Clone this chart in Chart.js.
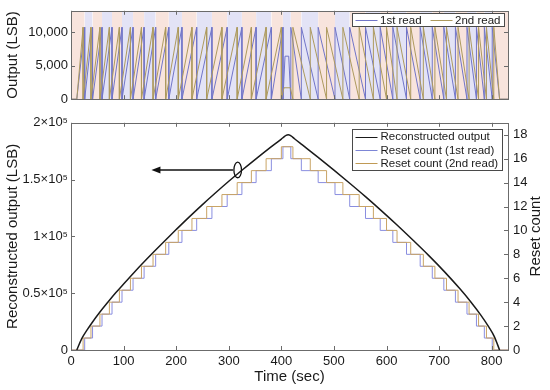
<!DOCTYPE html>
<html>
<head>
<meta charset="utf-8">
<script src="https://cdn.jsdelivr.net/npm/chart.js@4.4.1/dist/chart.umd.min.js"></script>
<style>
  body{margin:0;background:#fff;}
  #wrap{position:relative;width:550px;height:390px;}
  #top{position:absolute;left:0;top:0;}
  #bot{position:absolute;left:0;top:110px;}
</style>
</head>
<body>
<div id="wrap">
  <canvas id="top" width="550" height="110"></canvas>
  <canvas id="bot" width="550" height="280"></canvas>
</div>
<script>
// ---------- values ----------
// reconstructed output (LSB) vs time (sec)
const reconT = [11, 20, 30, 40, 55, 70, 85, 100, 120, 140, 160, 180, 200, 225, 250, 275, 300, 325, 350, 375,
                400, 405, 409, 413, 417, 421, 425, 440, 470, 500, 530, 560, 590, 620, 650, 680, 710, 740, 760, 780,
                795, 805, 815];
const reconV = [0, 9600, 17200, 24000, 33400, 42000, 50300, 58100, 68300, 78100, 87600, 96900, 106000, 117200, 128000, 138400, 148500, 158200, 167600, 176800,
                185700, 187600, 189000, 189500, 189000, 187600, 186000, 180500, 169500, 158300, 146800, 135000, 122700, 110000, 96800, 83300, 69000, 53600, 42500, 30300,
                19900, 11800, 0];

// times (sec) at which the reset count goes up (rising) / down (falling)
const riseRead1 = [26, 41, 59, 78, 97, 118, 139, 161, 186, 211, 239, 268, 297, 325, 352, 381, 403];
const riseRead2 = [23, 38, 55, 73, 92, 113, 134, 156, 180, 204, 230, 258, 287, 316, 343, 371, 400];
const fallRead1 = [418, 438, 470, 502, 530, 560, 588, 612, 638, 664, 687, 709, 731, 753, 771, 786, 801];
const fallRead2 = [422, 455, 486, 517, 548, 575, 600, 620, 646, 670, 692, 714, 736, 757, 775, 790, 804];

// raw output: tooth height and the partial ramp at the peak
const toothTop = 10700;
const humpRead1T = [407, 414], humpRead1V = 6400;
const humpRead2T = [405, 417], humpRead2V = 1700;

// axes
const xTicks = [0, 100, 200, 300, 400, 500, 600, 700, 800];
const topYTicks = [0, 5000, 10000];
const botYTicks = [0, 50000, 100000, 150000, 200000];
const countTicks = [0, 2, 4, 6, 8, 10, 12, 14, 16, 18];
const X_MAX = 831;
const TOP_Y_MAX = 13150;
const BOT_Y_MAX = 200000;
const COUNT_MAX = 19;

// annotation (arrow pointing to left axis, ring on the curve)
const arrowFromT = 308, arrowToT = 153, arrowV = 158500;
const ringT = 317, ringV = 158500;

// ---------- styling ----------
const FONT = "'Liberation Sans', Arial, sans-serif";
Chart.defaults.font.family = FONT;
Chart.defaults.color = '#1a1a1a';
const AXIS = '#6b6b6b';
const BLUE = '#7175c8';
const GOLD = '#ad9a5e';
const STEP_BLUE = '#8a8ee0';
const STEP_GOLD = '#c9a466';
const PINK = '#f8e4dd';
const LAV = '#e3e3f6';

// ---------- build series ----------
function sawtooth(rise, humpT, humpV, fall){
  const pts = [{x:0, y:0}, {x:reconT[0], y:0}];
  rise.forEach(t => { pts.push({x:t, y:toothTop}); pts.push({x:t, y:0}); });
  pts.push({x:humpT[0], y:humpV}, {x:humpT[1], y:humpV});
  fall.forEach(t => { pts.push({x:t, y:0}); pts.push({x:t, y:toothTop}); });
  pts.push({x:reconT[reconT.length-1], y:0}, {x:X_MAX, y:0});
  return pts;
}

function staircase(rise, fall){
  const pts = [{x:0, y:0}];
  rise.forEach((t,i) => pts.push({x:t, y:i+1}));
  fall.forEach((t,i) => pts.push({x:t, y:rise.length-1-i}));
  pts.push({x:X_MAX, y:0});
  return pts;
}

const bandEdges = [0, ...riseRead1, ...fallRead1, X_MAX];
const bandPts = bandEdges.map(t => ({x:t, y:TOP_Y_MAX}));
const reconPts = reconT.map((t,i) => ({x:t, y:reconV[i]}));

const fixTicks = list => s => { s.ticks = list.map(v => ({value: v})); };

// ---------- plugins ----------
const boxTicks = {
  id: 'boxTicks',
  afterDatasetsDraw(chart, args, o){
    const {ctx, chartArea:a, scales} = chart;
    const L = 4;
    ctx.save();
    ctx.strokeStyle = AXIS;
    ctx.lineWidth = 1;
    ctx.beginPath();
    scales.x.ticks.forEach(t => {
      const px = Math.round(scales.x.getPixelForValue(t.value)) + 0.5;
      ctx.moveTo(px, a.bottom); ctx.lineTo(px, a.bottom - L);
      ctx.moveTo(px, a.top); ctx.lineTo(px, a.top + L);
    });
    scales.y.ticks.forEach(t => {
      const py = Math.round(scales.y.getPixelForValue(t.value)) + 0.5;
      ctx.moveTo(a.left, py); ctx.lineTo(a.left + L, py);
      if(o.mirrorY){ ctx.moveTo(a.right, py); ctx.lineTo(a.right - L, py); }
    });
    if(scales.y1){
      scales.y1.ticks.forEach(t => {
        const py = Math.round(scales.y1.getPixelForValue(t.value)) + 0.5;
        ctx.moveTo(a.right, py); ctx.lineTo(a.right - L, py);
      });
    }
    ctx.stroke();
    ctx.strokeRect(Math.round(a.left)+0.5, Math.round(a.top)+0.5,
                   Math.round(a.right - a.left), Math.round(a.bottom - a.top));
    ctx.restore();
  }
};

const boxLegend = {
  id: 'boxLegend',
  afterDraw(chart, args, o){
    const ctx = chart.ctx, a = chart.chartArea;
    const items = chart.data.datasets.filter(d => d.label);
    ctx.save();
    ctx.font = o.fontSize + 'px ' + FONT;
    const tw = items.map(d => ctx.measureText(d.label).width);
    let w, h;
    if(o.inline){
      w = o.pad + items.reduce((s,d,i) => s + o.lineLen + o.gap + tw[i], 0) + o.itemGap*(items.length-1) + o.padR;
      h = o.rowH;
    } else {
      w = o.pad + o.lineLen + o.gap + Math.max(...tw) + o.padR;
      h = o.rowH*items.length + 2*o.vpad;
    }
    const x0 = Math.round(a.right - o.right - w) + 0.5;
    const y0 = Math.round(a.top + o.top) + 0.5;
    ctx.fillStyle = '#fff';
    ctx.fillRect(x0, y0, Math.round(w), Math.round(h));
    ctx.strokeStyle = '#4a4a4a';
    ctx.lineWidth = 1;
    ctx.strokeRect(x0, y0, Math.round(w), Math.round(h));
    ctx.textBaseline = 'middle';
    ctx.textAlign = 'left';
    let x = x0 + o.pad;
    items.forEach((d,i) => {
      let cy, lx;
      if(o.inline){ cy = y0 + h/2; lx = x; }
      else { cy = y0 + o.vpad + o.rowH*(i+0.5); lx = x0 + o.pad; }
      ctx.strokeStyle = d.legendColor || d.borderColor;
      ctx.lineWidth = 1;
      ctx.beginPath();
      ctx.moveTo(lx, Math.round(cy)+0.5); ctx.lineTo(lx + o.lineLen, Math.round(cy)+0.5);
      ctx.stroke();
      ctx.fillStyle = '#1a1a1a';
      ctx.fillText(d.label, lx + o.lineLen + o.gap, cy + 0.5);
      if(o.inline) x += o.lineLen + o.gap + tw[i] + o.itemGap;
    });
    ctx.restore();
  }
};

const annotate = {
  id: 'annotate',
  afterDatasetsDraw(chart){
    const {ctx, scales:{x, y}} = chart;
    const xa = x.getPixelForValue(arrowFromT), xb = x.getPixelForValue(arrowToT), ya = y.getPixelForValue(arrowV);
    ctx.save();
    ctx.strokeStyle = '#111'; ctx.fillStyle = '#111';
    ctx.lineWidth = 1.5;
    ctx.beginPath(); ctx.moveTo(xa, ya); ctx.lineTo(xb + 7, ya); ctx.stroke();
    ctx.beginPath(); ctx.moveTo(xb, ya); ctx.lineTo(xb + 9, ya - 3.5); ctx.lineTo(xb + 9, ya + 3.5); ctx.closePath(); ctx.fill();
    ctx.lineWidth = 1.3;
    ctx.beginPath();
    ctx.ellipse(x.getPixelForValue(ringT), y.getPixelForValue(ringV), 3.8, 7.8, 0, 0, Math.PI*2);
    ctx.stroke();
    // right axis title, reading bottom to top
    const a = chart.chartArea;
    ctx.translate(536, (a.top + a.bottom)/2);
    ctx.rotate(-Math.PI/2);
    ctx.font = '15px ' + FONT;
    ctx.fillStyle = '#1a1a1a';
    ctx.textAlign = 'center'; ctx.textBaseline = 'middle';
    ctx.fillText('Reset count', 0, 0);
    ctx.restore();
  }
};

const tickFont = {size: 13};
const titleFont = {size: 15};

// ---------- top: raw output ----------
new Chart(document.getElementById('top'), {
  type: 'line',
  data: {datasets: [
    {data: bandPts, borderColor: 'rgba(0,0,0,0)', borderWidth: 0, pointRadius: 0, fill: 'start',
     backgroundColor: PINK, segment: {backgroundColor: c => c.p0DataIndex % 2 ? LAV : PINK}, order: 10},
    {label: '1st read', data: sawtooth(riseRead1, humpRead1T, humpRead1V, fallRead1),
     borderColor: BLUE, borderWidth: 1, pointRadius: 0, tension: 0, order: 3},
    {label: '2nd read', data: sawtooth(riseRead2, humpRead2T, humpRead2V, fallRead2),
     borderColor: GOLD, borderWidth: 1, pointRadius: 0, tension: 0, order: 2}
  ]},
  options: {
    responsive: false, animation: false, events: [],
    layout: {padding: {top: 7, right: 42, left: 0, bottom: 0}},
    plugins: {legend: {display: false}, tooltip: {enabled: false},
      boxTicks: {mirrorY: true},
      boxLegend: {inline: true, fontSize: 11.5, pad: 3, padR: 4, lineLen: 22, gap: 2.5, itemGap: 9, rowH: 13, right: 4, top: 2}},
    scales: {
      x: {type: 'linear', min: 0, max: X_MAX,
          afterBuildTicks: fixTicks(xTicks),
          ticks: {display: false},
          grid: {display: false}, border: {display: false},
          afterFit: s => { s.height = 10; }},
      y: {min: 0, max: TOP_Y_MAX,
          afterBuildTicks: fixTicks(topYTicks),
          ticks: {padding: 3, font: tickFont, autoSkip: false,
                  callback: v => v.toLocaleString('en-US')},
          title: {display: true, text: 'Output (LSB)', font: titleFont, padding: {top: 4}},
          grid: {display: false, drawTicks: false}, border: {display: false},
          afterFit: s => { s.width = 71; }}
    }
  },
  plugins: [boxTicks, boxLegend]
});

// ---------- bottom: reconstructed output and reset counts ----------
new Chart(document.getElementById('bot'), {
  type: 'line',
  data: {datasets: [
    {label: 'Reconstructed output', data: reconPts, yAxisID: 'y',
     borderColor: '#1a1a1a', borderWidth: 1.5, pointRadius: 0, cubicInterpolationMode: 'monotone', order: 0},
    {label: 'Reset count (1st read)', data: staircase(riseRead1, fallRead1), yAxisID: 'y1',
     borderColor: STEP_BLUE, legendColor: '#7d86d6', borderWidth: 1, pointRadius: 0, stepped: 'before', order: 2},
    {label: 'Reset count (2nd read)', data: staircase(riseRead2, fallRead2), yAxisID: 'y1',
     borderColor: STEP_GOLD, legendColor: '#c09a55', borderWidth: 1, pointRadius: 0, stepped: 'before', order: 1}
  ]},
  options: {
    responsive: false, animation: false, events: [],
    layout: {padding: {top: 12, right: 0, left: 0, bottom: 0}},
    plugins: {legend: {display: false}, tooltip: {enabled: false},
      boxTicks: {mirrorY: false},
      boxLegend: {inline: false, fontSize: 11.5, pad: 3, padR: 4, lineLen: 22, gap: 3, rowH: 13.3, vpad: 0.5, right: 6, top: 6}},
    scales: {
      x: {type: 'linear', min: 0, max: X_MAX,
          afterBuildTicks: fixTicks(xTicks),
          ticks: {padding: 4, font: tickFont, maxRotation: 0, autoSkip: false},
          title: {display: true, text: 'Time (sec)', font: titleFont, padding: {bottom: 4}},
          grid: {display: false, drawTicks: false}, border: {display: false},
          afterFit: s => { s.height = 40; }},
      y: {position: 'left', min: 0, max: BOT_Y_MAX,
          afterBuildTicks: fixTicks(botYTicks),
          ticks: {padding: 3, font: tickFont, autoSkip: false,
                  callback: v => v === 0 ? '0' : (v/1e5) + '×10⁵'},
          title: {display: true, text: 'Reconstructed output (LSB)', font: titleFont, padding: {top: 4}},
          grid: {display: false, drawTicks: false}, border: {display: false},
          afterFit: s => { s.width = 71; }},
      y1: {position: 'right', min: 0, max: COUNT_MAX,
          afterBuildTicks: fixTicks(countTicks),
          ticks: {padding: 5, font: tickFont, autoSkip: false},
          grid: {display: false, drawTicks: false}, border: {display: false},
          afterFit: s => { s.width = 42; }}
    }
  },
  plugins: [boxTicks, boxLegend, annotate]
});
</script>
</body>
</html>
